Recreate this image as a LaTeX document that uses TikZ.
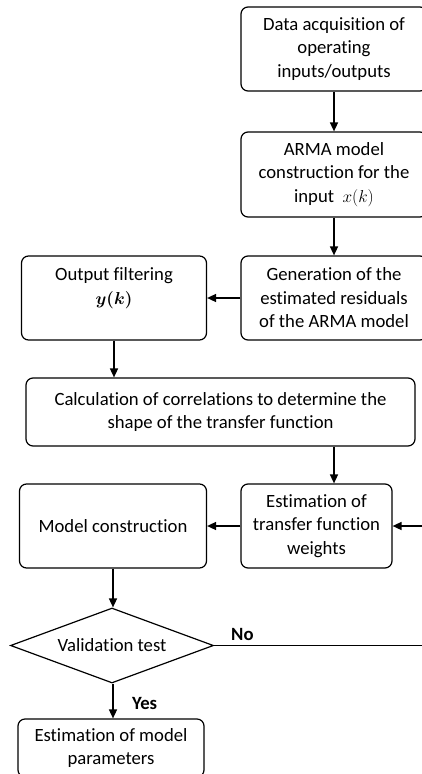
\documentclass[tikz,border=0pt]{standalone}
\usepackage{fontspec}
\setmainfont{Carlito}[Ligatures=NoCommon]
\usetikzlibrary{arrows.meta,positioning,shapes.geometric}

\begin{document}
\begin{tikzpicture}[x=1pt,y=1pt,
        every node/.style={font=\fontsize{18.7}{23.5}\selectfont},
        stepbox/.style={draw,rounded corners=7pt,line width=1.2pt,align=center,inner sep=0pt},
        testbox/.style={draw,diamond,line width=1.2pt,inner sep=0pt,aspect=2.7,
            minimum width=203pt,minimum height=75pt},
        flow/.style={line width=1.5pt,-{Triangle[length=9pt,width=8pt]}},
        flowlabel/.style={font=\fontsize{18.7}{20}\selectfont\bfseries}]
        % Page frame
        \useasboundingbox (0,0) rectangle (422,-774);
        \clip (0,0) rectangle (422,-774);

        % Right column
        \node[stepbox,minimum width=186pt,minimum height=84pt] (acq) at (334,-49)
            {Data acquisition of\\operating\\inputs/outputs};
        \node[stepbox,minimum width=186pt,minimum height=85pt] (arma) at (334,-174.5)
            {ARMA model\\construction for the\\input~~$x(k)$};
        \node[stepbox,minimum width=186pt,minimum height=84pt] (resid) at (334,-298)
            {Generation of the\\estimated residuals\\of the ARMA model};

        % Left column
        \node[stepbox,minimum width=185pt,minimum height=84pt] (filt) at (114,-298)
            {Output filtering\\{\boldmath$y(k)$}\\~};
        \node[stepbox,minimum width=389pt,minimum height=68pt] (corr) at (220.5,-412)
            {Calculation of correlations to determine the\\shape of the transfer function};
        \node[stepbox,minimum width=151pt,minimum height=84pt] (weights) at (316.5,-526)
            {Estimation of\\transfer function\\weights};
        \node[stepbox,minimum width=187pt,minimum height=84pt] (model) at (113,-526)
            {Model construction};
        \node[testbox] (test) at (112,-645.5) {Validation test};
        \node[stepbox,minimum width=186pt,minimum height=58pt] (est) at (111,-748)
            {Estimation of model\\parameters};

        % Loop end, off the page
        \coordinate (back) at (440,-645.5);

        % Connectors
        \draw[flow] (acq) -- (arma);
        \draw[flow] (arma) -- (resid);
        \draw[flow] (resid) -- (filt);
        \draw[flow] (filt.south) -- (filt.south |- corr.north);
        \draw[flow] (corr.south -| resid.south) -- (weights.north -| resid.south);
        \draw[flow] (weights) -- (model);
        \draw[flow] (model.south) -- (model.south |- test.north);
        \draw[flow] (test.south -| model.south) -- node[flowlabel,right,xshift=15pt,yshift=-2pt] {Yes}
            (est.north -| model.south);
        \draw[flow] (test.east) -- node[flowlabel,pos=0,above right,xshift=13pt,yshift=1pt] {No} (back)
            |- (weights.east);

    \end{tikzpicture}
\end{document}
